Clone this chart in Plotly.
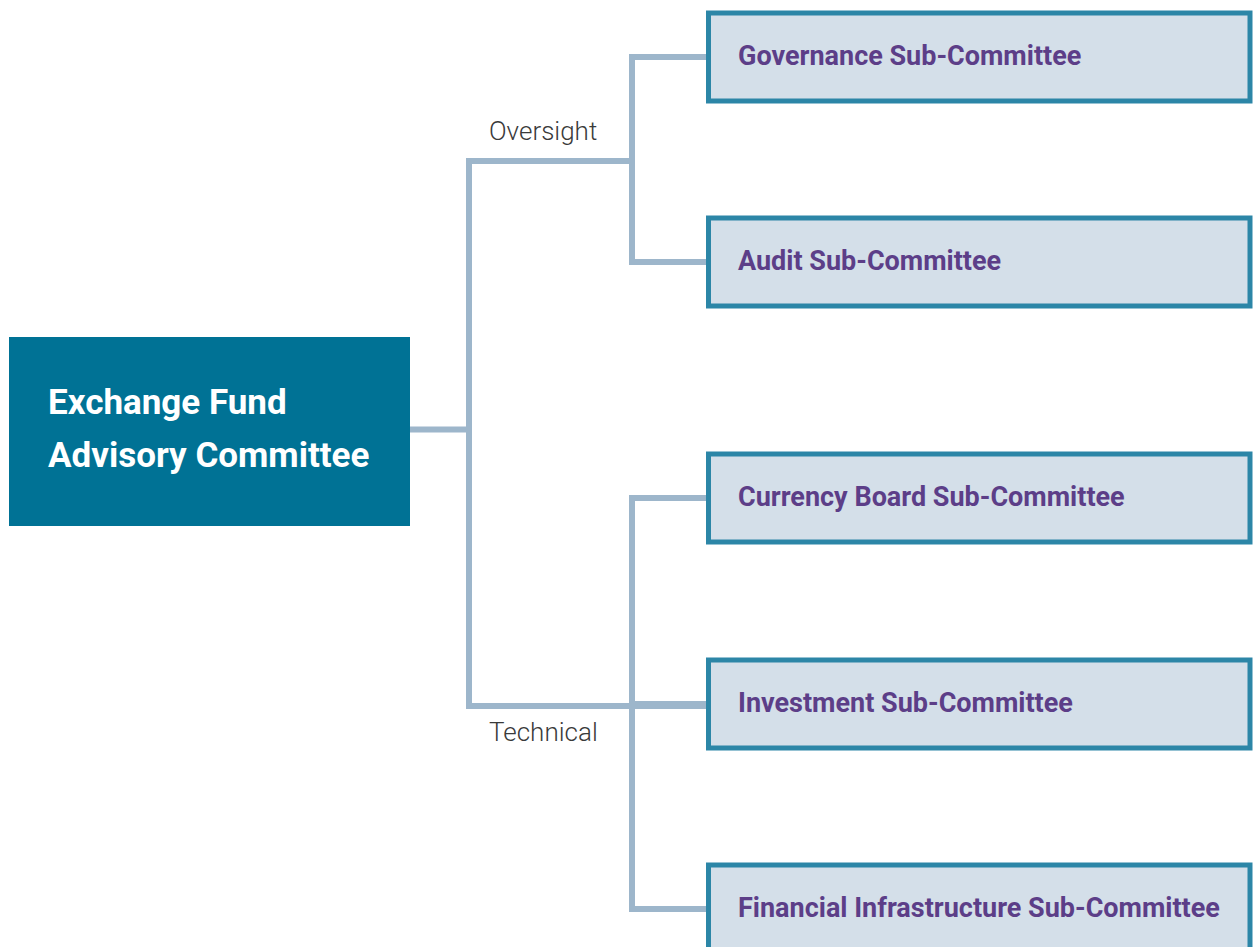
import plotly.graph_objects as go

# ---- data ----
root_lines = ["Exchange Fund", "Advisory Committee"]
group_labels = ["Oversight", "Technical"]
group_members = [
    ["Governance Sub-Committee", "Audit Sub-Committee"],
    ["Currency Board Sub-Committee", "Investment Sub-Committee",
     "Financial Infrastructure Sub-Committee"],
]

# ---- layout constants (pixel space) ----
W, H = 1253, 947
ROOT_X0, ROOT_X1, ROOT_Y0, ROOT_Y1 = 9, 410, 337, 526
SPINE_X = 469
BRANCH_X = 632
BOX_X0, BOX_X1 = 706, 1250
BOX_H = 93
BOX_BORDER = 5
member_centers = [[57, 262], [498, 704, 909]]
group_y = [161, 706]

ROOT_FILL = "#007295"
LINE_COL = "#9DB6CB"
BOX_LINE = "#2C86A7"
BOX_FILL = "#D4DFE9"
TEXT_PURPLE = "#5C3E88"
LABEL_COL = "#3a3a3a"

fig = go.Figure()
shapes = []
annotations = []

def path_shape(pts):
    d = "M " + " L ".join(f"{x},{y}" for x, y in pts)
    return dict(type="path", path=d, xref="x", yref="y",
                line=dict(color=LINE_COL, width=6), layer="above")

root_cy = (ROOT_Y0 + ROOT_Y1) / 2 - 2
# root connector
shapes.append(path_shape([(ROOT_X1, root_cy), (SPINE_X, root_cy)]))
# spine: oversight top -> technical bottom
shapes.append(path_shape([(BRANCH_X, group_y[0]), (SPINE_X, group_y[0]),
                          (SPINE_X, group_y[1]), (BOX_X0, group_y[1])]))
# group branches
for centers in member_centers:
    pts = [(BOX_X0, centers[0]), (BRANCH_X, centers[0]),
           (BRANCH_X, centers[-1]), (BOX_X0, centers[-1])]
    shapes.append(path_shape(pts))
    for c in centers[1:-1]:
        shapes.append(path_shape([(BRANCH_X, c), (BOX_X0, c)]))

# root box
shapes.append(dict(type="rect", xref="x", yref="y", x0=ROOT_X0, x1=ROOT_X1,
                   y0=ROOT_Y0, y1=ROOT_Y1, fillcolor=ROOT_FILL,
                   line=dict(width=0), layer="above"))
for i, line in enumerate(root_lines):
    annotations.append(dict(x=46, y=402 + 53 * i, xref="x", yref="y",
                            text=f"<b>{line}</b>", showarrow=False,
                            xanchor="left", yanchor="middle",
                            font=dict(family="Roboto", size=35, color="white")))

# member boxes
for names, centers in zip(group_members, member_centers):
    for name, c in zip(names, centers):
        half = BOX_H / 2 - BOX_BORDER / 2
        shapes.append(dict(type="rect", xref="x", yref="y",
                           x0=BOX_X0 + BOX_BORDER / 2, x1=BOX_X1,
                           y0=c - half, y1=c + half, fillcolor=BOX_FILL,
                           line=dict(color=BOX_LINE, width=BOX_BORDER),
                           layer="above"))
        annotations.append(dict(x=736, y=c - 1, xref="x", yref="y",
                                text=f"<b>{name}</b>", showarrow=False,
                                xanchor="left", yanchor="middle",
                                font=dict(family="Roboto", size=27,
                                          color=TEXT_PURPLE)))

# group labels
label_y = [group_y[0] - 30, group_y[1] + 26]
for lab, ly in zip(group_labels, label_y):
    annotations.append(dict(x=487, y=ly, xref="x", yref="y", text=lab,
                            showarrow=False, xanchor="left", yanchor="middle",
                            font=dict(family="Roboto", size=26,
                                      color=LABEL_COL, weight=300)))

fig.update_layout(
    width=W, height=H, margin=dict(l=0, r=0, t=0, b=0),
    paper_bgcolor="white", plot_bgcolor="white",
    xaxis=dict(range=[0, W], visible=False, fixedrange=True),
    yaxis=dict(range=[H, 0], visible=False, fixedrange=True),
    shapes=shapes, annotations=annotations, showlegend=False,
)
fig.write_html(
    "out.html",
    config={"displayModeBar": False, "responsive": False},
    post_script="document.body.style.margin='0';"
                "document.body.style.overflow='hidden';",
)
